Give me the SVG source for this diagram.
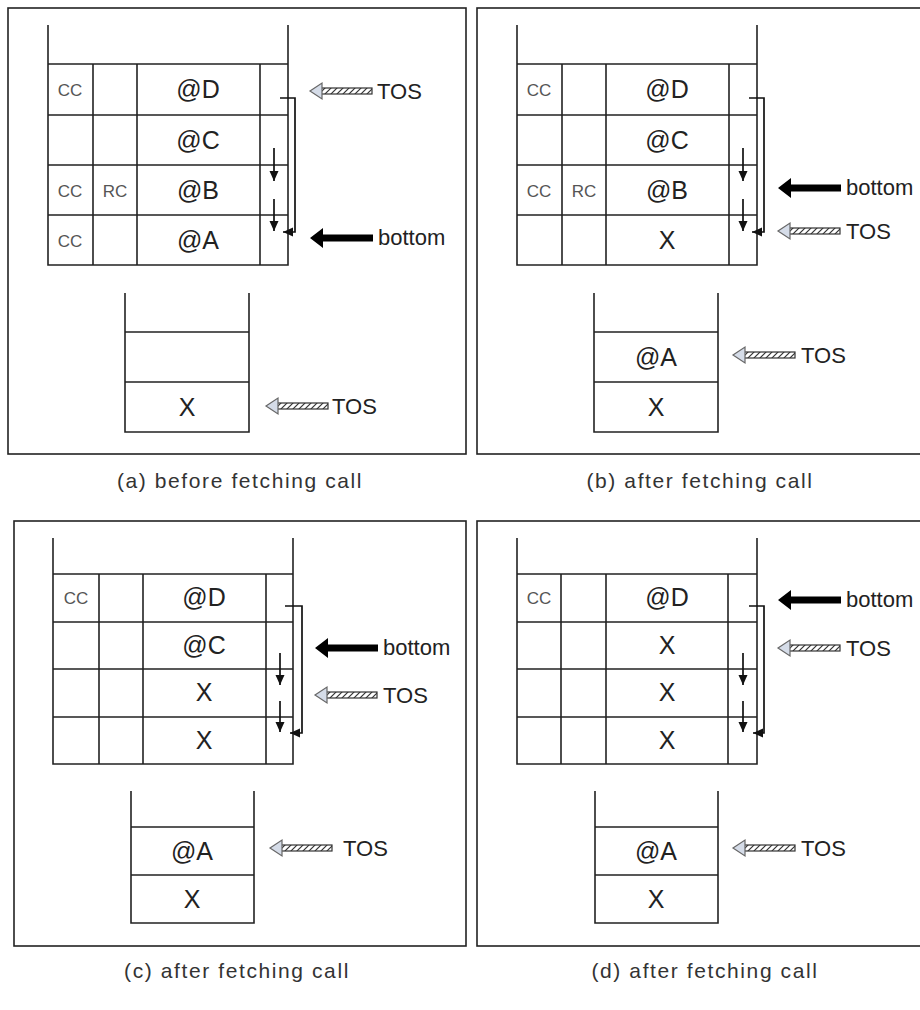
<svg xmlns="http://www.w3.org/2000/svg" width="920" height="1010" viewBox="0 0 920 1010">
<style>
.frame{fill:none;stroke:#222;stroke-width:1.6}
.grid{fill:none;stroke:#222;stroke-width:1.6}
.big{font-family:"Liberation Sans",Arial,sans-serif;font-size:25px;fill:#222;text-anchor:middle}
.sm{font-family:"Liberation Sans",Arial,sans-serif;font-size:17px;fill:#555;text-anchor:middle}
.lab{font-family:"Liberation Sans",Arial,sans-serif;font-size:22px;fill:#222}
.cap{font-family:"Liberation Sans",Arial,sans-serif;font-size:21px;fill:#333;text-anchor:middle;letter-spacing:1.6px}
.ptr{fill:none;stroke:#111;stroke-width:1.7}
</style>
<defs>
<pattern id="hatch" patternUnits="userSpaceOnUse" width="6" height="6">
<rect width="6" height="6" fill="#fff"/>
<path d="M-1,7 L7,-1 M-4,4 L4,-4 M2,10 L10,2" stroke="#333" stroke-width="1.2"/>
</pattern>
<marker id="ah" markerUnits="userSpaceOnUse" markerWidth="12" markerHeight="12" refX="10" refY="4.5" orient="auto">
<path d="M0,0 L10,4.5 L0,9 z" fill="#111"/>
</marker>
<g id="tosArrow">
<rect x="11" y="-3" width="51" height="6" fill="url(#hatch)" stroke="#333" stroke-width="1.2"/>
<polygon points="0,0 12,-8 12,8" fill="#d5dce8" stroke="#666" stroke-width="1.2"/>
</g>
<g id="botArrow">
<polygon points="0,0 13,-10 13,-3.5 63,-3.5 63,3.5 13,3.5 13,10" fill="#000"/>
</g>
</defs>

<!-- Panel (a) -->
<g id="panel-a">
<rect class="frame" x="8" y="8" width="458" height="446"/>
<g id="a-table">
<path class="grid" d="M48,25 V265 H288 V25 M48,64 H288 M48,115 H288 M48,165 H288 M48,215 H288 M93,64 V265 M137,64 V265 M260,64 V265"/>
<text class="sm" x="70" y="96">CC</text>
<text class="big" x="198" y="98">@D</text>
<text class="big" x="198" y="149">@C</text>
<text class="sm" x="70" y="197">CC</text>
<text class="sm" x="115" y="197">RC</text>
<text class="big" x="198" y="199">@B</text>
<text class="sm" x="70" y="247">CC</text>
<text class="big" x="198" y="249">@A</text>
</g>
<g id="a-stack">
<path class="grid" d="M125,293 V432 H249 V293 M125,332 H249 M125,382 H249"/>
<text class="big" x="187" y="416">X</text>
</g>
<use href="#tosArrow" x="310" y="91"/>
<text class="lab" x="377" y="99">TOS</text>
<use href="#botArrow" x="310" y="238"/>
<text class="lab" x="378" y="245">bottom</text>
<use href="#tosArrow" x="266" y="406"/>
<text class="lab" x="332" y="414">TOS</text>
<text class="cap" x="240" y="488">(a) before fetching call</text>
</g>

<!-- Panel (b) -->
<g id="panel-b">
<rect class="frame" x="477" y="8" width="446" height="446"/>
<g id="b-table">
<path class="grid" d="M517,25 V265 H757 V25 M517,64 H757 M517,115 H757 M517,165 H757 M517,215 H757 M562,64 V265 M606,64 V265 M729,64 V265"/>
<text class="sm" x="539" y="96">CC</text>
<text class="big" x="667" y="98">@D</text>
<text class="big" x="667" y="149">@C</text>
<text class="sm" x="539" y="197">CC</text>
<text class="sm" x="584" y="197">RC</text>
<text class="big" x="667" y="199">@B</text>
<text class="big" x="667" y="249">X</text>
</g>
<g id="b-stack">
<path class="grid" d="M594,293 V432 H718 V293 M594,332 H718 M594,382 H718"/>
<text class="big" x="656" y="366">@A</text>
<text class="big" x="656" y="416">X</text>
</g>
<use href="#botArrow" x="778" y="188"/>
<text class="lab" x="846" y="195">bottom</text>
<use href="#tosArrow" x="778" y="231"/>
<text class="lab" x="846" y="239">TOS</text>
<use href="#tosArrow" x="733" y="355"/>
<text class="lab" x="801" y="363">TOS</text>
<text class="cap" x="700" y="488">(b) after fetching call</text>
</g>

<!-- Panel (c) -->
<g id="panel-c">
<rect class="frame" x="14" y="521" width="452" height="425"/>
<g id="c-table">
<path class="grid" d="M53,538 V764 H293 V538 M53,574 H293 M53,622 H293 M53,669 H293 M53,717 H293 M99,574 V764 M143,574 V764 M266,574 V764"/>
<text class="sm" x="76" y="604">CC</text>
<text class="big" x="204" y="606">@D</text>
<text class="big" x="204" y="654">@C</text>
<text class="big" x="204" y="701">X</text>
<text class="big" x="204" y="749">X</text>
</g>
<g id="c-stack">
<path class="grid" d="M131,791 V923 H254 V791 M131,827 H254 M131,875 H254"/>
<text class="big" x="192" y="860">@A</text>
<text class="big" x="192" y="908">X</text>
</g>
<use href="#botArrow" x="315" y="648"/>
<text class="lab" x="383" y="655">bottom</text>
<use href="#tosArrow" x="315" y="695"/>
<text class="lab" x="383" y="703">TOS</text>
<use href="#tosArrow" x="270" y="848"/>
<text class="lab" x="343" y="856">TOS</text>
<text class="cap" x="237" y="978">(c) after fetching call</text>
</g>

<!-- Panel (d) -->
<g id="panel-d">
<rect class="frame" x="477" y="521" width="446" height="425"/>
<g id="d-table">
<path class="grid" d="M517,538 V764 H757 V538 M517,574 H757 M517,622 H757 M517,669 H757 M517,717 H757 M561,574 V764 M606,574 V764 M728,574 V764"/>
<text class="sm" x="539" y="604">CC</text>
<text class="big" x="667" y="606">@D</text>
<text class="big" x="667" y="654">X</text>
<text class="big" x="667" y="701">X</text>
<text class="big" x="667" y="749">X</text>
</g>
<g id="d-stack">
<path class="grid" d="M595,791 V923 H718 V791 M595,827 H718 M595,875 H718"/>
<text class="big" x="656" y="860">@A</text>
<text class="big" x="656" y="908">X</text>
</g>
<use href="#botArrow" x="778" y="600"/>
<text class="lab" x="846" y="607">bottom</text>
<use href="#tosArrow" x="778" y="648"/>
<text class="lab" x="846" y="656">TOS</text>
<use href="#tosArrow" x="733" y="848"/>
<text class="lab" x="801" y="856">TOS</text>
<text class="cap" x="705" y="978">(d) after fetching call</text>
</g>

<!-- Connectors: in-table pointer arrows -->
<g id="connectors">
<path class="ptr" d="M274,148 V181" marker-end="url(#ah)"/>
<path class="ptr" d="M274,199 V231" marker-end="url(#ah)"/>
<path class="ptr" d="M280,98 H295 V232 H283" marker-end="url(#ah)"/>
<path class="ptr" d="M743,148 V181" marker-end="url(#ah)"/>
<path class="ptr" d="M743,199 V231" marker-end="url(#ah)"/>
<path class="ptr" d="M749,98 H764 V232 H752" marker-end="url(#ah)"/>
<path class="ptr" d="M280,653 V685" marker-end="url(#ah)"/>
<path class="ptr" d="M280,701 V732" marker-end="url(#ah)"/>
<path class="ptr" d="M285,606 H302 V733 H290" marker-end="url(#ah)"/>
<path class="ptr" d="M743,653 V685" marker-end="url(#ah)"/>
<path class="ptr" d="M743,701 V732" marker-end="url(#ah)"/>
<path class="ptr" d="M749,606 H764 V733 H753" marker-end="url(#ah)"/>
</g>
</svg>
